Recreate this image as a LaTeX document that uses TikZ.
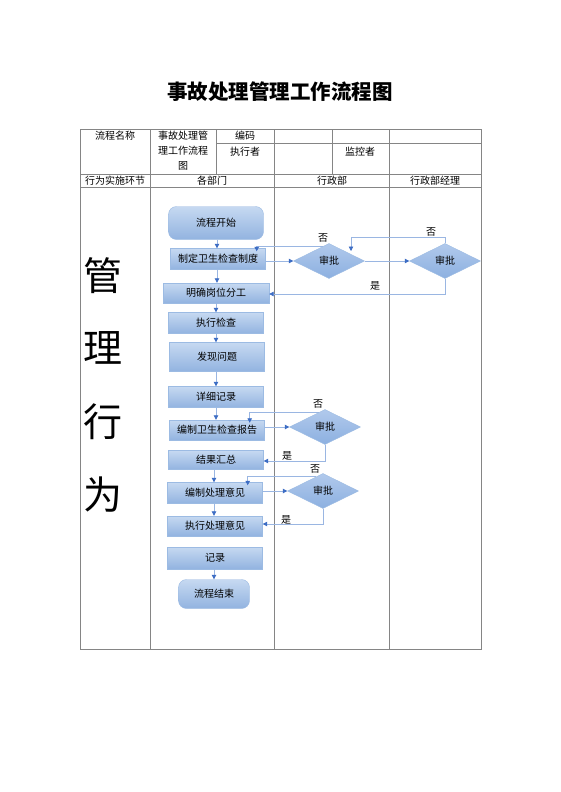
\documentclass[tikz,border=0pt]{standalone}
\usepackage{fontspec}
\setmainfont{Noto Sans CJK SC}
\usetikzlibrary{arrows.meta,shapes.geometric,shadings,calc}
\definecolor{boxtop}{HTML}{C6D9F1}
\definecolor{boxbot}{HTML}{92B3E0}
\definecolor{boxline}{HTML}{9CBBE3}
\definecolor{diatop}{HTML}{B0C9EC}
\definecolor{diabot}{HTML}{8DB0E0}
\definecolor{conline}{HTML}{9AB6E2}
\definecolor{arrowc}{HTML}{3D6DC4}
\definecolor{tabline}{HTML}{858585}
\begin{document}
\begin{tikzpicture}[x=1pt,y=-1pt,
  tl/.style={draw=tabline, line width=0.9pt},
  txt/.style={font=\fontsize{10}{12}\selectfont, inner sep=0pt},
  big/.style={font=\fontsize{39}{42}\selectfont, inner sep=0pt},
  box/.style={draw=boxline, top color=boxtop, bottom color=boxbot, minimum width=95pt, minimum height=21pt, inner sep=0pt, font=\fontsize{10}{12}\selectfont},
  rbox/.style={box, rounded corners=8pt},
  dia/.style={diamond, aspect=2, draw=boxline, top color=diatop, bottom color=diabot, inner sep=0pt, minimum width=71pt, minimum height=35pt, font=\fontsize{10}{12}\selectfont},
  con/.style={draw=conline, line width=0.8pt, -{Triangle[length=4.5pt,width=4.5pt,color=arrowc]}},
  lbl/.style={font=\fontsize{10}{12}\selectfont, inner sep=0pt}
]
\useasboundingbox[fill=white] (0,0) rectangle (560,792);

% title
\node[inner sep=0pt, font=\fontsize{20.5}{24}\selectfont\bfseries] (title) at (280,92) {事故处理管理工作流程图};

% table
\draw[tl] (80,129) rectangle (481,649);
\draw[tl] (80,174) -- (481,174);
\draw[tl] (80,187) -- (481,187);
\draw[tl] (216,143) -- (481,143);
\draw[tl] (150,129) -- (150,649);
\draw[tl] (216,129) -- (216,174);
\draw[tl] (274,129) -- (274,649);
\draw[tl] (332,129) -- (332,174);
\draw[tl] (389,129) -- (389,649);

\node[txt] (h1) at (115,136) {流程名称};
\node[txt] (h2a) at (183,136) {事故处理管};
\node[txt] (h2b) at (183,151) {理工作流程};
\node[txt] (h2c) at (183,166) {图};
\node[txt] (h3) at (245,136) {编码};
\node[txt] (h4) at (245,152) {执行者};
\node[txt] (h5) at (360,152) {监控者};
\node[txt] (r1) at (115,181) {行为实施环节};
\node[txt] (r2) at (212,181) {各部门};
\node[txt] (r3) at (332,181) {行政部};
\node[txt] (r4) at (435,181) {行政部经理};

\node[big] (g1) at (103,276) {管};
\node[big] (g2) at (103,348) {理};
\node[big] (g3) at (103,422) {行};
\node[big] (g4) at (103,495) {为};

% flow nodes
\node[rbox, minimum height=33pt] (s) at (216,223) {流程开始};
\node[box] (n1) at (218,259) {制定卫生检查制度};
\node[box, minimum width=106pt, minimum height=20pt] (n2) at (216,293) {明确岗位分工};
\node[box] (n3) at (216,323) {执行检查};
\node[box, minimum height=29pt] (n4) at (217,357) {发现问题};
\node[box] (n5) at (216,397) {详细记录};
\node[box, minimum height=20pt] (n6) at (217,430) {编制卫生检查报告};
\node[box, minimum height=19pt] (n7) at (216,460) {结果汇总};
\node[box] (n8) at (215,493) {编制处理意见};
\node[box, minimum height=20pt] (n9) at (215,526) {执行处理意见};
\node[box, minimum height=22pt] (n10) at (215,558) {记录};
\node[rbox, minimum width=71pt, minimum height=29pt] (e) at (214,594) {流程结束};

\node[dia] (d1) at (329,261) {审批};
\node[dia] (d2) at (445,261) {审批};
\node[dia] (d3) at (325,427) {审批};
\node[dia] (d4) at (323,491) {审批};

% vertical flow
\draw[con] ([xshift=1pt]s.south) -- ([xshift=1pt]s.south |- n1.north);
\draw[con] ([xshift=-1pt]n1.south) -- ([xshift=-1pt]n1.south |- n2.north);
\draw[con] (n2.south) -- (n2.south |- n3.north);
\draw[con] (n3.south) -- (n3.south |- n4.north);
\draw[con] ([xshift=-1pt]n4.south) -- ([xshift=-1pt]n4.south |- n5.north);
\draw[con] (n5.south) -- (n5.south |- n6.north);
\draw[con] ([xshift=-2pt]n7.south) -- ([xshift=-2pt]n7.south |- n8.north);
\draw[con] ([xshift=-1pt]n8.south) -- ([xshift=-1pt]n8.south |- n9.north);
\draw[con] ([xshift=-1pt]n10.south) -- ([xshift=-1pt]n10.south |- e.north);

% horizontal flow to approvals
\draw[con] (n1.east |- d1.west) -- (d1.west);
\draw[con] (d1.east) -- (d2.west);
\draw[con] (n6.east |- d3.west) -- (d3.west);
\draw[con] (n8.east |- d4.west) -- (d4.west);

% no-branches
\coordinate (c2a) at (445,237);
\coordinate (c2b) at (351,251);
\draw[con] (d2.north) -- (c2a) -| (c2b);
\node[lbl] (no2) at (431,232) {否};

\draw[con] ($(d1.north)!0.17!(d1.west)$) -| ([xshift=-9pt,yshift=-3pt]n1.north east);
\node[lbl] (no1) at (323,238) {否};

\draw[con] ($(d3.north)!0.17!(d3.west)$) -| ([xshift=-15pt,yshift=-3pt]n6.north east);
\node[lbl] (no3) at (318,404) {否};

\draw[con] ($(d4.north)!0.2!(d4.west)$) -| ([xshift=-15pt,yshift=-3pt]n8.north east);
\node[lbl] (no4) at (315,469) {否};

% yes-branches
\draw[con] (d2.south) |- ([yshift=-1pt]n2.east);
\node[lbl] (yes2) at (375,286) {是};
\draw[con] (d3.south) |- ([yshift=-1pt]n7.east);
\node[lbl] (yes3) at (287,456) {是};
\draw[con] (d4.south) |- ([yshift=2pt]n9.east);
\node[lbl] (yes4) at (286,520) {是};
\end{tikzpicture}
\end{document}
